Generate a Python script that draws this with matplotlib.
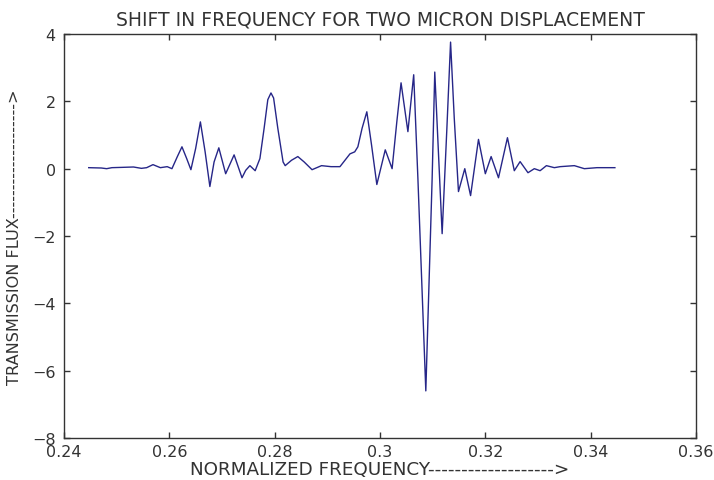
import matplotlib
matplotlib.use("Agg")
import matplotlib.pyplot as plt

# points (normalized frequency, transmission flux)
freq = [
    0.2447, 0.2471, 0.2481, 0.2491, 0.2512, 0.2532, 0.2547, 0.2557, 0.2569,
    0.2583, 0.2596, 0.2605, 0.2615, 0.2624, 0.2633, 0.2641, 0.2650, 0.2659,
    0.2668, 0.2677, 0.2685, 0.2694, 0.2707, 0.2723, 0.2738, 0.2745, 0.2753,
    0.2763, 0.2772, 0.2780, 0.2787, 0.2793, 0.2798, 0.2806, 0.2816, 0.2820,
    0.2832, 0.2844, 0.2856, 0.2871, 0.2889, 0.2907, 0.2924, 0.2943, 0.2952,
    0.2958, 0.2966, 0.2975, 0.2984, 0.2994, 0.3010, 0.3023, 0.3032, 0.3040,
    0.3053, 0.3064, 0.3072, 0.3087, 0.3099, 0.3104, 0.3118, 0.3127, 0.3134,
    0.3141, 0.3149, 0.3161, 0.3172, 0.3187, 0.3200, 0.3211, 0.3225, 0.3242,
    0.3255, 0.3266, 0.3281, 0.3293, 0.3304, 0.3316, 0.3331, 0.3342, 0.3369,
    0.3388, 0.3412, 0.3430, 0.3446,
]
flux = [
    0.03, 0.02, 0.00, 0.03, 0.04, 0.05, 0.01, 0.03, 0.12,
    0.03, 0.06, 0.00, 0.35, 0.65, 0.30, -0.03, 0.60, 1.39,
    0.50, -0.53, 0.20, 0.62, -0.15, 0.41, -0.27, -0.05, 0.09,
    -0.06, 0.30, 1.20, 2.05, 2.25, 2.10, 1.20, 0.20, 0.09,
    0.25, 0.36, 0.20, -0.03, 0.09, 0.06, 0.06, 0.44, 0.50,
    0.65, 1.20, 1.69, 0.70, -0.47, 0.56, 0.00, 1.40, 2.55,
    1.10, 2.79, -0.30, -6.60, -0.30, 2.87, -1.93, 1.20, 3.76,
    1.50, -0.68, 0.00, -0.80, 0.87, -0.15, 0.36, -0.27, 0.92,
    -0.06, 0.21, -0.12, 0.00, -0.06, 0.09, 0.03, 0.06, 0.09,
    0.00, 0.03, 0.03, 0.03,
]
xticks = [0.24, 0.26, 0.28, 0.3, 0.32, 0.34, 0.36]
xtick_labels = ["0.24", "0.26", "0.28", "0.3", "0.32", "0.34", "0.36"]
yticks = [-8, -6, -4, -2, 0, 2, 4]

plt.rcParams["font.family"] = ["DejaVu Sans"]

fig = plt.figure(figsize=(7.14, 4.81), dpi=100)
ax = fig.add_axes([0.0896, 0.0873, 0.8852, 0.8399])
ax.plot(freq, flux, color="#262688", lw=1.0)

ax.set_xlim(0.24, 0.36)
ax.set_ylim(-8, 4)
ax.set_xticks(xticks)
ax.set_xticklabels(xtick_labels)
ax.set_yticks(yticks)
ax.tick_params(direction="in", top=True, right=True, length=4, width=1,
               labelsize=11.5, colors="#333333")
ax.tick_params(axis="y", pad=6)
ax.tick_params(axis="x", pad=4)
for s in ax.spines.values():
    s.set_linewidth(1.0)
    s.set_color("#333333")

ax.set_title("SHIFT IN FREQUENCY FOR TWO MICRON DISPLACEMENT",
             fontsize=13.5, pad=7, color="#333333")
ax.set_xlabel("NORMALIZED FREQUENCY------------------->",
              fontsize=13.2, labelpad=1, color="#333333")
ax.set_ylabel("TRANSMISSION FLUX-------------------->",
              fontsize=11.6, labelpad=7, color="#333333")

fig.savefig("out.png", dpi=100)
